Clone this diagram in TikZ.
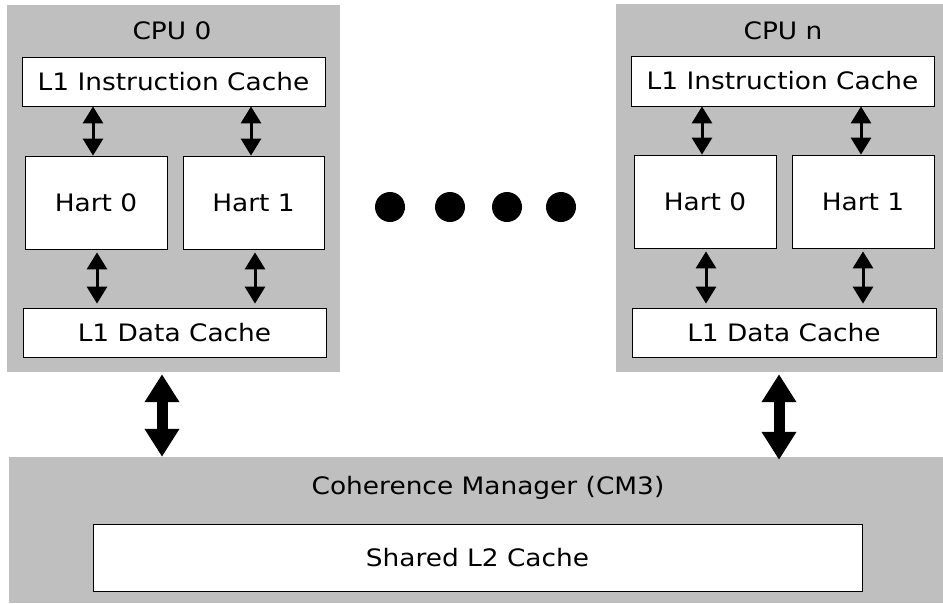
\documentclass[tikz,border=0pt]{standalone}
\usepackage{fontspec}
\setmainfont{DejaVu Sans}[FakeStretch=1.1]
\usetikzlibrary{arrows.meta}
\definecolor{cgray}{RGB}{191,191,191}
\tikzset{
  graybox/.style={fill=cgray, draw=none, inner sep=0pt, anchor=center},
  whitebox/.style={fill=white, draw=black, line width=0.8pt, inner sep=0pt, anchor=center, font=\fontsize{24}{28}\selectfont},
  lbl/.style={inner sep=0pt, anchor=center, font=\fontsize{24}{28}\selectfont},
  smallarr/.style={line width=3pt, {Triangle[width=20pt,length=17pt]}-{Triangle[width=20pt,length=17pt]}},
  bigarr/.style={line width=11pt, {Triangle[width=33pt,length=28pt]}-{Triangle[width=33pt,length=28pt]}},
  dot/.style={circle, fill=black, minimum size=30pt, inner sep=0pt}
}
\begin{document}
\begin{tikzpicture}[x=1pt,y=-1pt]
\useasboundingbox (0,0) rectangle (943,603);
\fill[white] (0,0) rectangle (943,603);
% CPU 0
\node[graybox, minimum width=333pt, minimum height=367pt] (cpu0) at (173.5,188.5) {};
\node[lbl] (cpu0t) at (172,31) {CPU 0};
\node[whitebox, minimum width=303pt, minimum height=49pt] (l1i0) at (173.5,81.5) {L1 Instruction Cache};
\node[whitebox, minimum width=142pt, minimum height=93pt] (h00) at (96,202.5) {Hart 0};
\node[whitebox, minimum width=141pt, minimum height=93pt] (h01) at (253.5,202.5) {Hart 1};
\node[whitebox, minimum width=303pt, minimum height=49pt] (l1d0) at (174.5,332.5) {L1 Data Cache};
% CPU n
\node[graybox, minimum width=327pt, minimum height=368pt] (cpun) at (779.5,188) {};
\node[lbl] (cpunt) at (783,31) {CPU n};
\node[whitebox, minimum width=303pt, minimum height=50pt] (l1in) at (782.5,81) {L1 Instruction Cache};
\node[whitebox, minimum width=142pt, minimum height=93pt] (hn0) at (705,201.5) {Hart 0};
\node[whitebox, minimum width=142pt, minimum height=93pt] (hn1) at (863,201.5) {Hart 1};
\node[whitebox, minimum width=304pt, minimum height=49pt] (l1dn) at (784,332.5) {L1 Data Cache};
% dots
\node[dot] (d1) at (390,207) {};
\node[dot] (d2) at (450,207) {};
\node[dot] (d3) at (507,207) {};
\node[dot] (d4) at (561,207) {};
% Coherence manager
\node[graybox, minimum width=934pt, minimum height=146pt] (cm) at (476,530) {};
\node[lbl] (cmt) at (488,488) {Coherence Manager (CM3)};
\node[whitebox, minimum width=769pt, minimum height=67pt] (l2) at (477.5,557.5) {Shared L2 Cache};
% small arrows CPU 0
\draw[smallarr] ([xshift=-3pt]h00.north |- l1i0.south) -- ([xshift=-3pt]h00.north);
\draw[smallarr] ([xshift=-2.5pt]h01.north |- l1i0.south) -- ([xshift=-2.5pt]h01.north);
\draw[smallarr, shorten <=3pt, shorten >=4pt] ([xshift=1pt]h00.south) -- ([xshift=1pt]h00.south |- l1d0.north);
\draw[smallarr, shorten <=3pt, shorten >=4pt] ([xshift=1.5pt]h01.south) -- ([xshift=1.5pt]h01.south |- l1d0.north);
% small arrows CPU n
\draw[smallarr] ([xshift=-3pt]hn0.north |- l1in.south) -- ([xshift=-3pt]hn0.north);
\draw[smallarr] ([xshift=-2pt]hn1.north |- l1in.south) -- ([xshift=-2pt]hn1.north);
\draw[smallarr, shorten <=3pt, shorten >=4pt] ([xshift=1pt]hn0.south) -- ([xshift=1pt]hn0.south |- l1dn.north);
\draw[smallarr, shorten <=3pt, shorten >=4pt] (hn1.south) -- (hn1.south |- l1dn.north);
% big arrows
\draw[bigarr, shorten <=2pt] ([xshift=-11.5pt]cpu0.south) -- ([xshift=-11.5pt]cpu0.south |- cm.north);
\draw[bigarr, shorten <=2pt, shorten >=-3pt] ([xshift=-0.5pt]cpun.south) -- ([xshift=-0.5pt]cpun.south |- cm.north);
\end{tikzpicture}
\end{document}
